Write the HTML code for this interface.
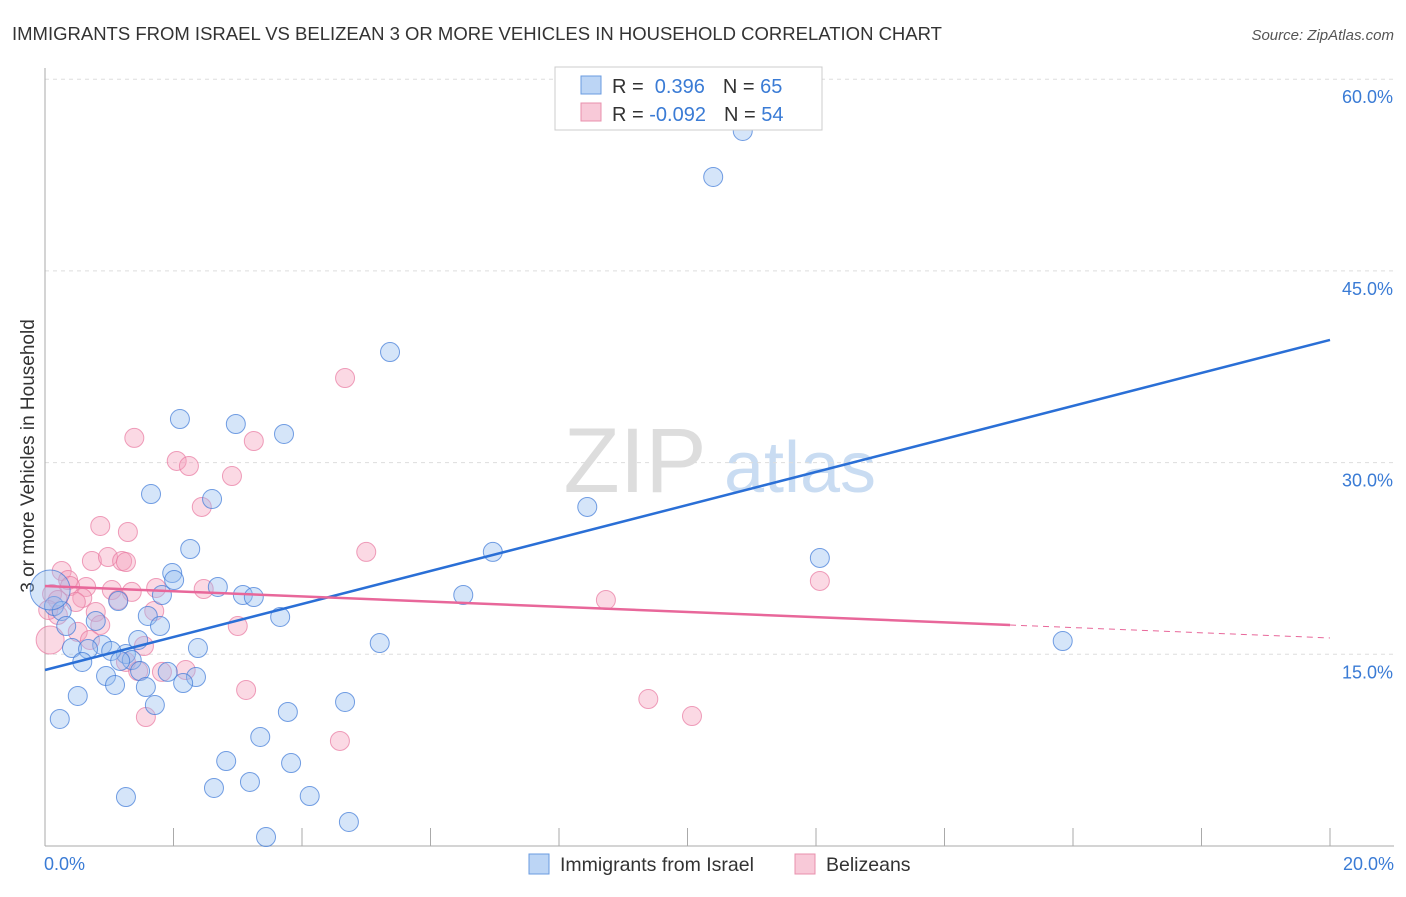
<!DOCTYPE html>
<html><head><meta charset="utf-8"><style>
body{margin:0;background:#fff;font-family:"Liberation Sans",sans-serif}
svg text{font-family:"Liberation Sans",sans-serif}
</style></head><body>
<svg id="c" width="1406" height="892" xmlns="http://www.w3.org/2000/svg">
<text x="12" y="40" font-size="18.5" fill="#333">IMMIGRANTS FROM ISRAEL VS BELIZEAN 3 OR MORE VEHICLES IN HOUSEHOLD CORRELATION CHART</text>
<text x="1394" y="40" font-size="15" fill="#555" text-anchor="end" font-style="italic">Source: ZipAtlas.com</text>
<text transform="translate(34,456) rotate(-90)" font-size="19" fill="#333" text-anchor="middle">3 or more Vehicles in Household</text>
<g><text x="635" y="492" font-size="92" fill="#ddd" text-anchor="middle" font-family="Liberation Serif">ZIP</text><text x="800" y="492" font-size="72" fill="#c9dcf2" text-anchor="middle">atlas</text></g>
<g id="grid"></g><g id="pts"></g><g id="lines"></g>
<g>
<rect x="555" y="67" width="267" height="63" fill="#fff" stroke="#ccc"/>
<rect x="581" y="76" width="20" height="18" fill="#bcd5f5" stroke="#6a9be0"/>
<rect x="581" y="103" width="20" height="18" fill="#f8c9d8" stroke="#e890ad"/>
<text x="612" y="93" font-size="20" fill="#333">R = <tspan fill="#3a7bd5">&#160;0.396</tspan><tspan dx="18" fill="#333">N = </tspan><tspan fill="#3a7bd5">65</tspan></text>
<text x="612" y="121" font-size="20" fill="#333">R = <tspan fill="#3a7bd5">-0.092</tspan><tspan dx="18" fill="#333">N = </tspan><tspan fill="#3a7bd5">54</tspan></text>
</g>
<g>
<rect x="529" y="854" width="20" height="20" fill="#bcd5f5" stroke="#6a9be0"/>
<text x="560" y="871" font-size="19.5" fill="#333">Immigrants from Israel</text>
<rect x="795" y="854" width="20" height="20" fill="#f8c9d8" stroke="#e890ad"/>
<text x="826" y="871" font-size="19.5" fill="#333">Belizeans</text>
</g>
</svg>
<script>
const yTicks=[15,30,45,60];
const xTickLabels=["0.0%","20.0%"];
const blueX=[10.86,10.40,5.37,2.10,2.97,3.72,1.65,2.60,8.44,2.26,6.97,12.06,1.98,2.01,2.69,1.82,3.08,3.25,6.51,1.14,0.14,0.26,1.60,3.66,1.79,0.79,0.33,15.84,5.21,1.45,0.42,0.89,0.67,1.26,2.38,1.03,1.35,0.58,1.17,1.48,1.91,0.95,2.35,1.09,2.15,1.57,0.51,4.67,1.71,3.78,0.23,3.35,2.82,3.83,3.19,2.63,4.12,1.26,4.73,3.44,0.08];
const blueY=[55.95,52.35,38.65,33.41,33.02,32.24,27.54,27.15,26.53,23.24,23.01,22.54,21.36,20.81,20.27,19.64,19.64,19.48,19.64,19.17,18.78,18.39,18.00,17.92,17.21,17.61,17.21,16.04,15.88,16.12,15.49,15.73,15.41,15.02,15.49,15.26,14.55,14.40,14.48,13.69,13.62,13.30,13.22,12.60,12.75,12.44,11.74,11.27,11.03,10.49,9.94,8.53,6.65,6.49,5.01,4.54,3.91,3.83,1.88,0.70,20.03];
const pinkX=[4.67,1.39,3.25,2.05,2.24,2.91,2.44,0.86,1.29,5.00,0.73,0.98,1.20,1.26,0.26,0.36,0.64,0.39,1.73,2.47,1.04,1.35,0.11,0.58,0.20,0.48,8.73,12.06,1.14,1.70,0.79,3.00,0.86,0.51,0.20,0.70,1.54,0.08,1.26,1.82,1.45,2.19,3.13,9.39,10.07,1.57,4.59,0.05];
const pinkY=[36.62,31.93,31.69,30.13,29.73,28.95,26.53,25.04,24.57,23.01,22.30,22.61,22.30,22.22,21.52,20.81,20.27,20.34,20.19,20.11,20.03,19.88,19.72,19.41,19.25,19.09,19.25,20.74,19.25,18.39,18.31,17.21,17.29,16.75,18.08,16.12,15.65,16.12,14.40,13.62,13.69,13.77,12.21,11.50,10.17,10.09,8.22,18.47];
const blueTrend=[13.77,39.6];
const pinkTrend=[20.34,17.29,16.28];
const X=v=>45+v/20*1285, Y=v=>846-v/15*191.7;
const NS="http://www.w3.org/2000/svg";
function mk(t,a,p){const e=document.createElementNS(NS,t);for(const k in a)e.setAttribute(k,a[k]);p.appendChild(e);return e;}
const g=document.getElementById('grid');
yTicks.forEach(t=>{
 const l=mk('line',{x1:45,x2:1394,y1:Y(t),y2:Y(t),stroke:'#ddd','stroke-dasharray':'4,4'},g);
 
 
 const tx=mk('text',{x:1393,y:Y(t)+24,'font-size':18,fill:'#3a7bd5','text-anchor':'end'},g);
 tx.textContent=t.toFixed(1)+'%';
 
 
});
const ax=mk('line',{x1:45,x2:45,y1:68,y2:846,stroke:'#aaa'},g);


const bx=mk('line',{x1:45,x2:1394,y1:846,y2:846,stroke:'#aaa'},g);


for(let i=0;i<=10;i++){const t=mk('line',{x1:X(i*2),x2:X(i*2),y1:828,y2:846,stroke:'#aaa'},g);
 
 }
xTickLabels.forEach((s,i)=>{const t=mk('text',{x:i?1394:44,y:870,'font-size':18,fill:'#3a7bd5','text-anchor':i?'end':'start'},g);t.textContent=s;
 
 });
const p=document.getElementById('pts');
pinkX.forEach((x,i)=>{const r=(i==37)?14:9.5;const c=mk('circle',{cx:X(x),cy:Y(pinkY[i]),r:r,fill:'rgba(244,160,188,0.4)',stroke:'rgba(232,120,160,0.7)','stroke-width':1},p);
 
 });
blueX.forEach((x,i)=>{const r=(i==60)?20:9.5;const c=mk('circle',{cx:X(x),cy:Y(blueY[i]),r:r,fill:'rgba(150,190,240,0.4)',stroke:'rgba(60,120,215,0.7)','stroke-width':1},p);
 
 });
const L=document.getElementById('lines');
const b=mk('line',{x1:X(0),y1:Y(blueTrend[0]),x2:X(20),y2:Y(blueTrend[1]),stroke:'#2a6fd6','stroke-width':2.5},L);


const pk=mk('line',{x1:X(0),y1:Y(pinkTrend[0]),x2:X(15.02),y2:Y(pinkTrend[1]),stroke:'#e8679a','stroke-width':2.5},L);


const pd=mk('line',{x1:X(15.02),y1:Y(pinkTrend[1]),x2:X(20),y2:Y(pinkTrend[2]),stroke:'#e8679a','stroke-width':1,'stroke-dasharray':'6,5'},L);


</script>
</body></html>
